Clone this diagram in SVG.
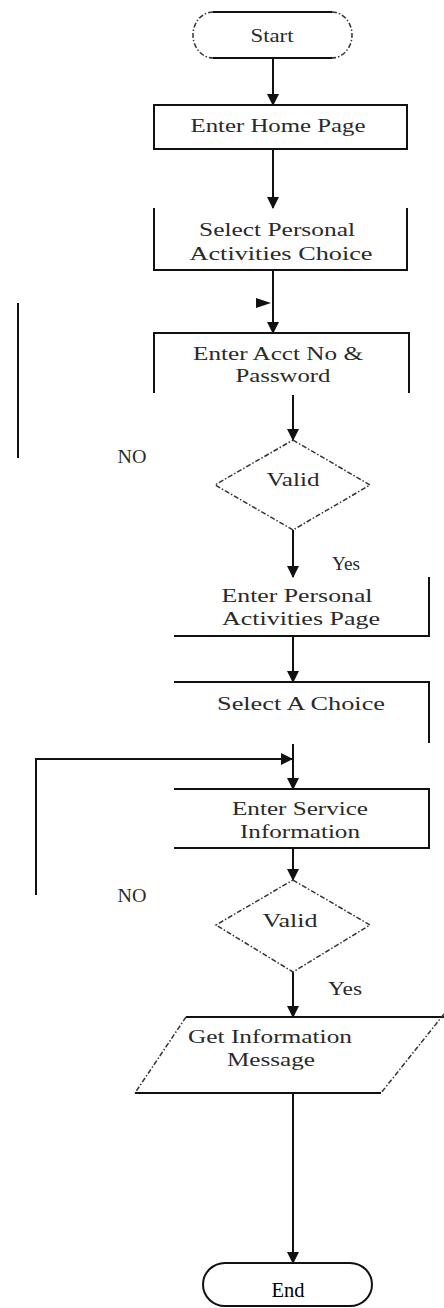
<svg xmlns="http://www.w3.org/2000/svg" width="444" height="1308" viewBox="0 0 444 1308">
  <defs>
    <marker id="arrow" markerUnits="userSpaceOnUse" markerWidth="14" markerHeight="14" refX="11" refY="6" orient="auto">
      <path d="M0,0 L12,6 L0,12 Z" fill="#111"/>
    </marker>
    <style>
      .edge { stroke: #111; stroke-width: 2; fill: none; }
      .dash { stroke: #333; stroke-width: 1.5; fill: none; stroke-dasharray: 5 2 1.5 2; }
      .lbl { font-family: "Liberation Serif", "Times New Roman", serif; font-size: 19px; fill: #2a2a2a; text-anchor: middle; }
      .end { font-family: "Liberation Serif", "Times New Roman", serif; font-size: 21px; fill: #000; text-anchor: middle; }
    </style>
  </defs>
  <rect width="444" height="1308" fill="#fff"/>

  <!-- connectors -->
  <g id="connectors">
    <line class="edge" x1="273" y1="58" x2="273" y2="105" marker-end="url(#arrow)"/>
    <line class="edge" x1="273" y1="149" x2="273" y2="208" marker-end="url(#arrow)"/>
    <line class="edge" x1="273" y1="270" x2="273" y2="333" marker-end="url(#arrow)"/>
    <line class="edge" x1="293" y1="395" x2="293" y2="440" marker-end="url(#arrow)"/>
    <line class="edge" x1="293" y1="530" x2="293" y2="577" marker-end="url(#arrow)"/>
    <line class="edge" x1="293" y1="636" x2="293" y2="682" marker-end="url(#arrow)"/>
    <line class="edge" x1="293" y1="744" x2="293" y2="789" marker-end="url(#arrow)"/>
    <line class="edge" x1="293" y1="848" x2="293" y2="880" marker-end="url(#arrow)"/>
    <line class="edge" x1="293" y1="972" x2="293" y2="1017" marker-end="url(#arrow)"/>
    <line class="edge" x1="293" y1="1093" x2="293" y2="1263" marker-end="url(#arrow)"/>
    <!-- first "NO" return path -->
    <line class="edge" x1="18" y1="303" x2="18" y2="458"/>
    <path d="M256,298 L271,303 L256,308 Z" fill="#111"/>
    <!-- second "NO" return path -->
    <polyline class="edge" points="36,895 36,759 292,759" marker-end="url(#arrow)"/>
  </g>

  <g id="start">
    <line class="edge" x1="213" y1="12" x2="332" y2="12"/>
    <line class="edge" x1="213" y1="58" x2="332" y2="58"/>
    <path class="dash" d="M213,12 A20,23 0 0 0 213,58"/>
    <path class="dash" d="M332,12 A20,23 0 0 1 332,58"/>
    <text class="lbl" x="272" y="42" textLength="43" lengthAdjust="spacingAndGlyphs" fill="#555">Start</text>
  </g>

  <g id="home">
    <rect class="edge" x="154" y="105" width="253" height="44"/>
    <text class="lbl" x="278" y="132" textLength="175" lengthAdjust="spacingAndGlyphs">Enter Home Page</text>
  </g>

  <g id="select-personal">
    <polyline class="edge" points="154,208 154,270 407,270 407,208"/>
    <text class="lbl" x="277" y="236" textLength="156" lengthAdjust="spacingAndGlyphs">Select Personal</text>
    <text class="lbl" x="281" y="260" textLength="183" lengthAdjust="spacingAndGlyphs">Activities Choice</text>
  </g>

  <g id="account">
    <polyline class="edge" points="154,393 154,333 409,333 409,393"/>
    <text class="lbl" x="278" y="360" textLength="170" lengthAdjust="spacingAndGlyphs">Enter Acct No &amp;</text>
    <text class="lbl" x="283" y="382" textLength="95" lengthAdjust="spacingAndGlyphs">Password</text>
  </g>

  <g id="valid-1">
    <polygon class="dash" points="293,440 370,485 293,530 215,485"/>
    <text class="lbl" x="293" y="486" textLength="53" lengthAdjust="spacingAndGlyphs">Valid</text>
    <text class="lbl" x="132" y="463" textLength="29" lengthAdjust="spacingAndGlyphs">NO</text>
    <text class="lbl" x="346" y="570" textLength="28" lengthAdjust="spacingAndGlyphs">Yes</text>
  </g>

  <g id="personal-page">
    <polyline class="edge" points="174,636 429,636 429,577"/>
    <text class="lbl" x="297" y="602" textLength="151" lengthAdjust="spacingAndGlyphs">Enter Personal</text>
    <text class="lbl" x="301" y="625" textLength="158" lengthAdjust="spacingAndGlyphs">Activities Page</text>
  </g>

  <g id="select-choice">
    <polyline class="edge" points="174,682 429,682 429,743"/>
    <text class="lbl" x="301" y="710" textLength="168" lengthAdjust="spacingAndGlyphs">Select A Choice</text>
  </g>

  <g id="service">
    <polyline class="edge" points="174,789 429,789 429,848 174,848"/>
    <text class="lbl" x="300" y="815" textLength="136" lengthAdjust="spacingAndGlyphs">Enter Service</text>
    <text class="lbl" x="300" y="838" textLength="120" lengthAdjust="spacingAndGlyphs">Information</text>
  </g>

  <g id="valid-2">
    <polygon class="dash" points="293,880 370,925 293,972 216,925"/>
    <text class="lbl" x="290" y="927" textLength="55" lengthAdjust="spacingAndGlyphs">Valid</text>
    <text class="lbl" x="132" y="902" textLength="29" lengthAdjust="spacingAndGlyphs">NO</text>
    <text class="lbl" x="345" y="995" textLength="34" lengthAdjust="spacingAndGlyphs">Yes</text>
  </g>

  <g id="message">
    <line class="edge" x1="186" y1="1017" x2="444" y2="1017"/>
    <line class="edge" x1="135" y1="1093" x2="381" y2="1093"/>
    <line class="dash" x1="444" y1="1014" x2="381" y2="1093"/>
    <line class="dash" x1="186" y1="1017" x2="135" y2="1093"/>
    <text class="lbl" x="270" y="1043" textLength="164" lengthAdjust="spacingAndGlyphs">Get Information</text>
    <text class="lbl" x="271" y="1066" textLength="88" lengthAdjust="spacingAndGlyphs">Message</text>
  </g>

  <g id="end">
    <rect class="edge" x="203" y="1263" width="169" height="43" rx="22" ry="21.5"/>
    <text class="end" x="288" y="1297" textLength="33" lengthAdjust="spacingAndGlyphs">End</text>
  </g>
</svg>
